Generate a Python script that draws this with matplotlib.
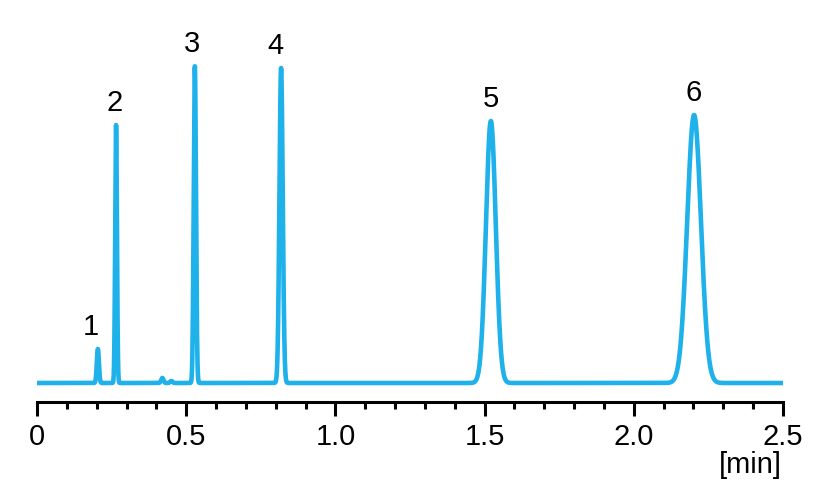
import numpy as np
import matplotlib
matplotlib.use("Agg")
import matplotlib.pyplot as plt
from matplotlib.ticker import MultipleLocator

# Peak table (retention time [min], height, width sigma [min])
peak_labels = ["1", "2", "3", "4", "5", "6"]
peak_times = [0.204, 0.265, 0.529, 0.818, 1.521, 2.202]
peak_heights = [34, 258, 317, 315, 262, 268]
peak_sigmas = [0.0035, 0.003, 0.0038, 0.0055, 0.0165, 0.023]
# small unlabeled bumps
minor_times = [0.420, 0.450]
minor_heights = [5, 2]
minor_sigmas = [0.004, 0.004]

x_ticks = [0, 0.5, 1.0, 1.5, 2.0, 2.5]
x_tick_labels = ["0", "0.5", "1.0", "1.5", "2.0", "2.5"]

t = np.linspace(0, 2.5, 6000)
signal = np.zeros_like(t)
for tr, h, s in zip(peak_times + minor_times, peak_heights + minor_heights,
                    peak_sigmas + minor_sigmas):
    signal += h * np.exp(-0.5 * ((t - tr) / s) ** 2)

plt.rcParams['font.family'] = ['Liberation Sans', 'DejaVu Sans']

fig = plt.figure(figsize=(8.2, 4.92), dpi=100)
ax = fig.add_axes([37 / 820, 90 / 492, 746 / 820, 402 / 492])
ax.plot(t, signal, color='#1fb1ea', lw=3.3, solid_capstyle='round',
        solid_joinstyle='round')
ax.set_xlim(0, 2.5)
ax.set_ylim(-19, 383)

for sp in ['top', 'right', 'left']:
    ax.spines[sp].set_visible(False)
ax.spines['bottom'].set_linewidth(2.2)
ax.set_yticks([])
ax.set_xticks(x_ticks)
ax.set_xticklabels(x_tick_labels)
ax.xaxis.set_minor_locator(MultipleLocator(0.1))
ax.tick_params(axis='x', which='major', length=10, width=2.2, labelsize=21,
               pad=5, direction='out')
ax.tick_params(axis='x', which='minor', length=5, width=2.2, direction='out')
ax.patch.set_alpha(0)

offsets = [-5, -1, -2, -4, 0, 0]
for lab, tr, h, dx in zip(peak_labels, peak_times, peak_heights, offsets):
    ax.annotate(lab, xy=(tr, h), xytext=(dx, 6), textcoords='offset points',
                ha='center', va='bottom', fontsize=21)

fig.text(782 / 820, 1 - 465 / 492, "[min]", ha='right', va='center', fontsize=21)

fig.savefig("out.png", dpi=100, facecolor='white')
